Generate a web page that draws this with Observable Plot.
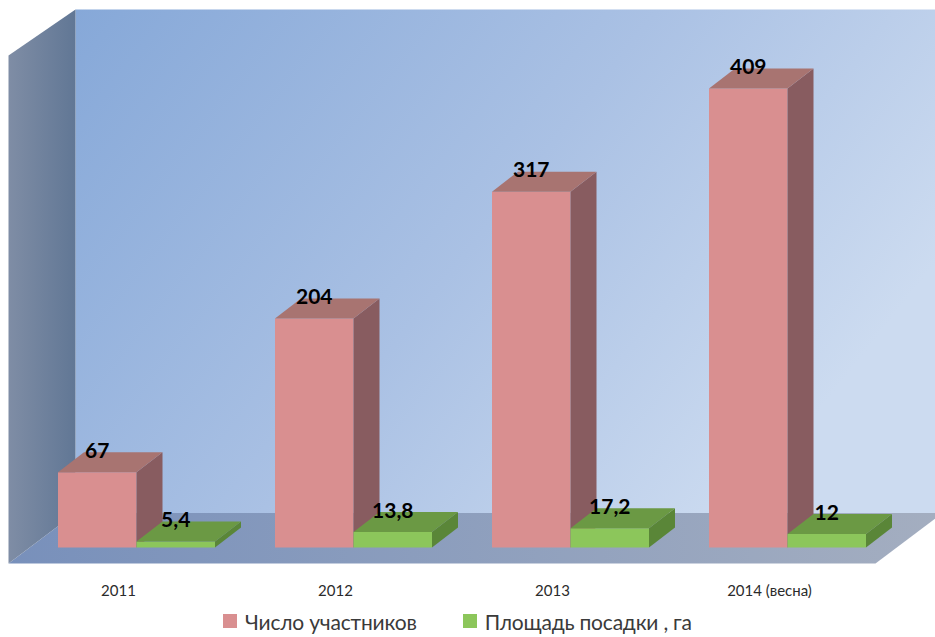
<!DOCTYPE html>
<html>
<head>
<meta charset="utf-8">
<script src="https://cdn.jsdelivr.net/npm/d3@7"></script>
<script src="https://cdn.jsdelivr.net/npm/@observablehq/plot@0.6"></script>
<style>
  body { margin: 0; background: #fff; font-family: Lato, sans-serif; }
  #legend { display: flex; align-items: center; height: 32px; padding-left: 223px; font-size: 21px; letter-spacing: -0.2px; color: #3a3a3a; }
  #legend .item { display: flex; align-items: center; margin-right: 46px; }
  #legend .sw { width: 14px; height: 14px; display: inline-block; margin-right: 8px; }
</style>
</head>
<body>
<div id="chart"></div>
<div id="legend"></div>
<script>
// ---- data ----
const categories = ["2011", "2012", "2013", "2014 (весна)"];
const participants = [67, 204, 317, 409];
const plantingArea = [5.4, 13.8, 17.2, 12];
const seriesNames = ["Число участников", "Площадь посадки , га"];

// ---- styles ----
const palette = [
  {front: "#d98f90", top: "#a87471", side: "#885c60"},
  {front: "#8cc65b", top: "#6b9944", side: "#5a8638"}
];

// layout (px) -> data units
const W = 935, H = 605, mBottom = 58;
const pxPerX = 217;               // px per category step
const firstJunction = 136;         // px of first category junction
const yMax = 487.3;
const pxPerY = (H - mBottom) / yMax;
const xDomain = [-firstJunction / pxPerX, (W - firstJunction) / pxPerX];
const barW = 78.5 / pxPerX;
const ddx = 26 / pxPerX, ddy = 20 / pxPerY;      // bar depth
const DX = 67 / pxPerX, DY = 50.5 / pxPerY;      // floor depth
const DYtop = 46 / pxPerY;                        // left wall top slant
const x0 = (8 - firstJunction) / pxPerX;         // front-left corner of floor
const y0 = -16 / pxPerY;                         // floor front
const yTop = (H - mBottom - 9) / pxPerY;         // top of back wall
const xFloorRight = (875 - firstJunction) / pxPerX;

// ---- build bar faces ----
const faces = [[], []].map(() => ({front: [], top: [], side: []}));
const labels = [];
[participants, plantingArea].forEach((vals, s) => {
  vals.forEach((v, i) => {
    const x1 = s === 0 ? i - barW : i;
    const x2 = s === 0 ? i : i + barW;
    const id = `${s}-${i}`;
    const F = faces[s];
    [[x1, 0], [x2, 0], [x2, v], [x1, v]].forEach(([x, y]) => F.front.push({id, x, y}));
    [[x1, v], [x2, v], [x2 + ddx, v + ddy], [x1 + ddx, v + ddy]].forEach(([x, y]) => F.top.push({id, x, y}));
    [[x2, 0], [x2 + ddx, ddy], [x2 + ddx, v + ddy], [x2, v]].forEach(([x, y]) => F.side.push({id, x, y}));
    labels.push({x: (x1 + x2) / 2, y: v + ddy, text: String(v).replace(".", ",")});
  });
});

// ---- walls ----
const leftWall = [[x0, y0], [x0 + DX, y0 + DY], [x0 + DX, yTop], [x0, yTop - DYtop]].map(([x, y]) => ({x, y}));
const backWall = [[x0 + DX, y0 + DY], [xDomain[1] + 0.1, y0 + DY], [xDomain[1] + 0.1, yTop], [x0 + DX, yTop]].map(([x, y]) => ({x, y}));
const floor = [[x0, y0], [x0 + DX, y0 + DY], [xFloorRight + DX, y0 + DY], [xFloorRight, y0]].map(([x, y]) => ({x, y}));

const poly = (data, fill, z) => Plot.line(data, {x: "x", y: "y", z, fill, stroke: "none", curve: "linear-closed"});

const marks = [
  poly(backWall, "url(#gBack)"),
  poly(floor, "url(#gFloor)"),
  poly(leftWall, "url(#gLeft)")
];
[0, 1].forEach(s => {
  marks.push(poly(faces[s].front, palette[s].front, "id"));
  marks.push(poly(faces[s].side, palette[s].side, "id"));
  marks.push(poly(faces[s].top, palette[s].top, "id"));
});
marks.push(Plot.text(labels, {x: "x", y: "y", text: "text", fontSize: 21, fontWeight: "bold", fill: "#000", dy: -1}));
marks.push(Plot.axisX(d3.range(categories.length), {
  tickFormat: i => categories[i], tickSize: 0, tickPadding: 38, dx: -18, label: null, fill: "#2b2b2b"
}));

const svg = Plot.plot({
  width: W, height: H,
  marginTop: 0, marginBottom: mBottom, marginLeft: 0, marginRight: 0,
  x: {type: "linear", domain: xDomain, axis: null},
  y: {type: "linear", domain: [0, yMax], axis: null},
  style: {fontFamily: "Lato, sans-serif", fontSize: "15px", background: "transparent", overflow: "hidden"},
  marks
});

// gradients
const defs = d3.select(svg).insert("defs", ":first-child");
function grad(id, x2, y2, stops) {
  const g = defs.append("linearGradient").attr("id", id)
    .attr("x1", 0).attr("y1", 0).attr("x2", x2).attr("y2", y2);
  stops.forEach(([o, c]) => g.append("stop").attr("offset", o).attr("stop-color", c));
}
grad("gBack", 1, 0.45, [[0, "#86a8d8"], [0.55, "#aac1e4"], [1, "#ccdbf0"]]);
grad("gFloor", 1, 0, [[0, "#7890bb"], [1, "#a4aec0"]]);
grad("gLeft", 1, 0, [[0, "#7f8da5"], [1, "#617795"]]);

document.getElementById("chart").appendChild(svg);

// legend
const legend = d3.select("#legend");
seriesNames.forEach((name, s) => {
  const it = legend.append("div").attr("class", "item");
  it.append("span").attr("class", "sw").style("background", palette[s].front);
  it.append("span").text(name);
});
</script>
</body>
</html>
